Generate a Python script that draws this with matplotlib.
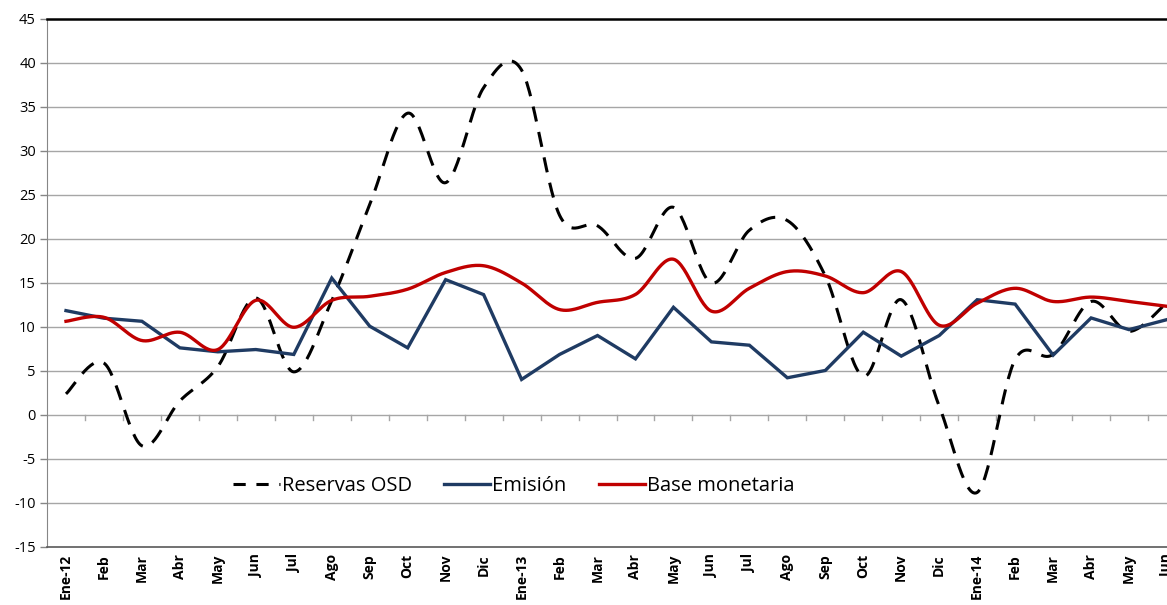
import numpy as np
import matplotlib
matplotlib.use("Agg")
import matplotlib.pyplot as plt
from matplotlib.lines import Line2D

months = ["Ene-12", "Feb", "Mar", "Abr", "May", "Jun", "Jul", "Ago", "Sep", "Oct", "Nov", "Dic",
          "Ene-13", "Feb", "Mar", "Abr", "May", "Jun", "Jul", "Ago", "Sep", "Oct", "Nov", "Dic",
          "Ene-14", "Feb", "Mar", "Abr", "May", "Jun"]

reservas = [2.4, 5.9, -3.5, 1.6, 5.5, 13.3, 4.9, 13.0, 23.9, 34.3, 26.4, 37.2,
            39.2, 22.7, 21.5, 17.8, 23.6, 15.0, 21.0, 22.1, 15.8, 4.4, 13.1, 1.0,
            -8.8, 6.3, 6.9, 12.9, 9.5, 12.8]
emision = [11.86, 11.0, 10.65, 7.63, 7.18, 7.44, 6.88, 15.56, 10.09, 7.63, 15.38, 13.68,
           4.04, 6.88, 9.03, 6.38, 12.24, 8.31, 7.93, 4.23, 5.06, 9.41, 6.69, 9.03,
           13.1, 12.6, 6.8, 11.03, 9.7, 10.84]
base = [10.65, 11.1, 8.46, 9.4, 7.44, 13.03, 9.97, 13.03, 13.49, 14.3, 16.2, 16.96,
        15.0, 11.98, 12.8, 13.7, 17.7, 11.8, 14.4, 16.3, 15.8, 13.9, 16.3, 10.2,
        12.7, 14.4, 12.9, 13.4, 12.9, 12.35]

yticks = list(range(-15, 50, 5))


def smooth(xs, ys, n=30):
    """Excel-like smoothing (Catmull-Rom via cubic Bezier)."""
    p = np.column_stack([xs, ys]).astype(float)
    pts = np.vstack([p[0], p, p[-1]])
    out = []
    t = np.linspace(0, 1, n)[:, None]
    for i in range(1, len(pts) - 2):
        p0, p1, p2, p3 = pts[i - 1], pts[i], pts[i + 1], pts[i + 2]
        c1 = p1 + (p2 - p0) / 6.0
        c2 = p2 - (p3 - p1) / 6.0
        seg = ((1 - t) ** 3) * p1 + 3 * ((1 - t) ** 2) * t * c1 + 3 * (1 - t) * t ** 2 * c2 + t ** 3 * p2
        out.append(seg if i == 1 else seg[1:])
    s = np.vstack(out)
    return s[:, 0], s[:, 1]


W, H = 1167, 605
fig = plt.figure(figsize=(W / 100, H / 100), dpi=100)
ax = fig.add_axes([47 / W, (H - 547) / H, 1139 / W, 528 / H])

x = np.arange(len(months))
ax.set_xlim(-0.5, len(months) - 0.5)
ax.set_ylim(-15, 45)

# gridlines
for v in yticks[1:-1]:
    ax.axhline(v, color="#a6a6a6", lw=1.0, zorder=1)

# category tick marks at y = 0
for b in np.arange(0.5, len(months) - 0.5, 1.0):
    ax.plot([b, b], [0, -0.6], color="#a6a6a6", lw=1.0, zorder=1, clip_on=False)

xr, yr = smooth(x, reservas)
ax.plot(xr, yr, color="black", lw=2.2, dashes=(5, 3.5), zorder=3)
ax.plot(x, emision, color="#1f3b63", lw=2.4, zorder=4, solid_joinstyle="miter")
xb, yb = smooth(x, base)
ax.plot(xb, yb, color="#c00000", lw=2.4, zorder=5)

ax.set_yticks(yticks)
ax.set_yticklabels([str(v) for v in yticks], fontsize=10.5, family="Open Sans")
ax.tick_params(axis="y", length=5, color="#868686", width=1, pad=3)

ax.set_xticks(x)
ax.set_xticklabels(months, rotation=90, fontsize=10, fontweight="bold", family="Open Sans",
                   va="top", ha="center")
ax.tick_params(axis="x", length=0, pad=5)

ax.spines["left"].set_color("#868686")
ax.spines["right"].set_visible(False)
ax.spines["bottom"].set_color("#595959")
ax.spines["bottom"].set_linewidth(1.2)
ax.spines["top"].set_color("black")
ax.spines["top"].set_linewidth(1.8)

handles = [Line2D([], [], color="black", lw=2.2, dashes=(4, 3.5)),
           Line2D([], [], color="#1f3b63", lw=2.4),
           Line2D([], [], color="#c00000", lw=2.4)]
ax.legend(handles, ["Reservas OSD", "Emisión", "Base monetaria"], loc="center",
          bbox_to_anchor=(0.410, 0.1155), ncol=3, frameon=False,
          prop={"family": "Open Sans", "size": 14.5}, handlelength=2.3,
          handletextpad=0.1, columnspacing=1.6)

fig.text(758 / W, 1 + 3 / H, "(%)", ha="center", va="baseline", fontsize=14, family="Open Sans")

fig.savefig("out.png", dpi=100)
